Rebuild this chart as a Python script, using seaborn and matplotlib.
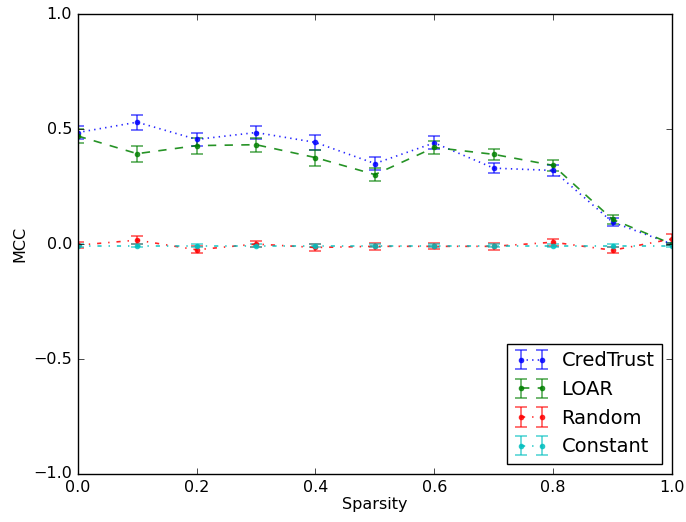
import matplotlib
matplotlib.use("Agg")
import matplotlib.pyplot as plt
import seaborn as sns
import numpy as np

sparsity = [0.0, 0.1, 0.2, 0.3, 0.4, 0.5, 0.6, 0.7, 0.8, 0.9, 1.0]
credtrust = [0.485, 0.53, 0.455, 0.485, 0.442, 0.35, 0.44, 0.33, 0.32, 0.095, 0.0]
credtrust_err = [0.03, 0.033, 0.03, 0.03, 0.033, 0.028, 0.028, 0.022, 0.022, 0.018, 0.005]
loar = [0.47, 0.393, 0.428, 0.432, 0.376, 0.302, 0.42, 0.39, 0.342, 0.107, 0.0]
loar_err = [0.03, 0.035, 0.035, 0.03, 0.035, 0.028, 0.028, 0.025, 0.025, 0.02, 0.005]
random_ = [-0.005, 0.017, -0.025, 0.0, -0.015, -0.01, -0.01, -0.01, 0.008, -0.027, 0.022]
random_err = [0.012, 0.016, 0.015, 0.013, 0.014, 0.014, 0.013, 0.014, 0.015, 0.013, 0.02]
constant = [-0.007, -0.007, -0.007, -0.007, -0.007, -0.007, -0.007, -0.007, -0.007, -0.007, -0.007]
constant_err = [0.005, 0.005, 0.005, 0.005, 0.005, 0.005, 0.005, 0.005, 0.005, 0.005, 0.005]

series = [
    ("CredTrust", credtrust, credtrust_err, "#0000ff", ":"),
    ("LOAR", loar, loar_err, "#008000", "--"),
    ("Random", random_, random_err, "#ff0000", "-."),
    ("Constant", constant, constant_err, "#00bfbf", "-."),
]

sns.set_theme(style="white", color_codes=False)
plt.style.use("classic")
plt.rcParams["font.family"] = ["DejaVu Sans"]
plt.rcParams["figure.facecolor"] = "white"
plt.rcParams["savefig.facecolor"] = "white"
plt.rcParams["xtick.labelsize"] = 11.5
plt.rcParams["ytick.labelsize"] = 11.5
plt.rcParams["axes.labelsize"] = 11.5

fig = plt.figure(figsize=(6.86, 5.22), dpi=100)
ax = fig.add_axes([0.1133, 0.092, 0.8663, 0.881])

for name, vals, errs, col, ls in series:
    cont = ax.errorbar(sparsity, vals, yerr=errs, color=col, ls=ls, marker="o",
                       markersize=3.5, mec=col, capsize=4, elinewidth=1.2,
                       capthick=1.2, lw=1.2, label=name)
    line, caps, bars = cont
    line.set_alpha(0.85)
    for c in caps:
        c.set_alpha(0.65)
    for b in bars:
        b.set_alpha(0.65)

ax.set_xlim(0, 1)
ax.set_ylim(-1, 1)
ax.set_xticks([0.0, 0.2, 0.4, 0.6, 0.8, 1.0])
ax.set_yticks([-1.0, -0.5, 0.0, 0.5, 1.0])
ax.set_xlabel("Sparsity", labelpad=2)
ax.set_ylabel("MCC", labelpad=4)
ax.legend(loc="lower right", numpoints=2, fontsize=14, borderaxespad=0.5,
          handlelength=1.7, handletextpad=0.7)

fig.savefig("out.png", dpi=100)
